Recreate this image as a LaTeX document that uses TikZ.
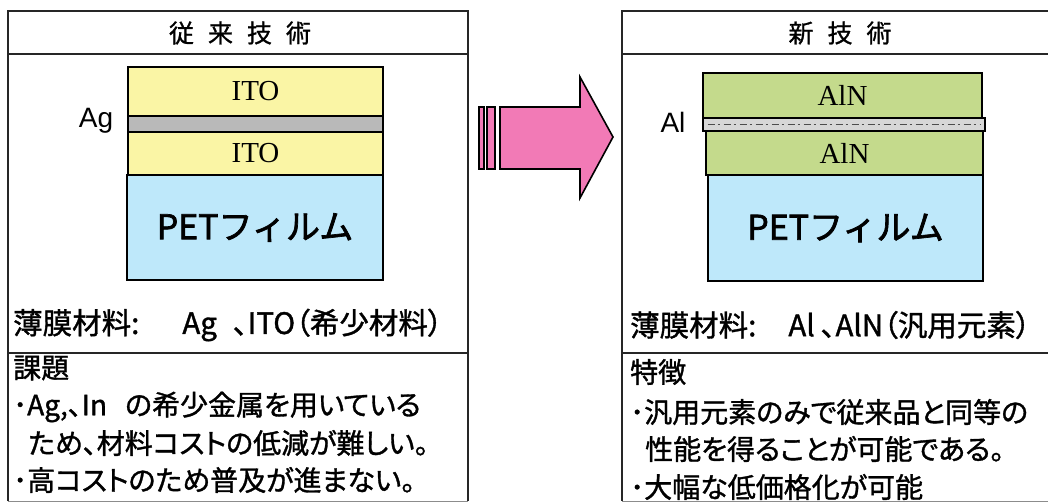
\documentclass[tikz,border=0pt]{standalone}
\usepackage{fontspec}
\setmainfont{Noto Sans CJK JP}[RawFeature=+palt,FakeBold=1.2]
\newfontfamily\jpb{Noto Sans CJK JP}[FakeBold=2]
\newfontfamily\jpt{Noto Sans CJK JP}[FakeBold=1]
\newfontfamily\serifl{Liberation Serif}
\newfontfamily\sansl{Liberation Sans}
\definecolor{itoY}{RGB}{250,245,165}
\definecolor{agG}{RGB}{185,185,185}
\definecolor{alG}{RGB}{215,215,215}
\definecolor{alnG}{RGB}{196,218,140}
\definecolor{petB}{RGB}{190,232,250}
\definecolor{arrP}{RGB}{242,122,182}
\begin{document}
\begin{tikzpicture}[x=1pt,y=-1pt,
  panel/.style={line width=2.4pt,draw=black!85},
  base/.style={line width=1pt,draw=black!45},
  layer/.style={draw=black,line width=2.6pt,inner sep=0pt,font=\serifl\fontsize{29}{29}\selectfont},
  pet/.style={layer,fill=petB,font=\jpb\fontsize{34}{34}\selectfont},
  lbl/.style={font=\sansl\fontsize{28}{28}\selectfont,inner sep=0pt},
  title/.style={font=\jpt\fontsize{25}{25}\selectfont,inner sep=0pt},
  txt/.style={font=\fontsize{28}{30}\selectfont,anchor=west,inner sep=0pt},
  mat/.style={font=\fontsize{29.5}{30}\selectfont,anchor=west,inner sep=0pt},
  speck/.style={draw=black!70,line width=0.8pt,dash pattern=on 7pt off 3pt on 2pt off 4pt},
  arrow/.style={fill=arrP,draw=black,line width=1.6pt,line join=miter}]
\useasboundingbox (0,0) rectangle (1048,503);
% left panel
\draw[panel] (8,501) -- (8,11) -- (468,11) -- (468,501);
\draw[base] (8,501) -- (468,501);
\draw[panel] (8,54) -- (468,54);
\draw[panel] (8,353) -- (468,353);
\node[title] (t1) at (240,33) {従\kern14pt 来\kern14pt 技\kern14pt 術};
\node[layer,fill=itoY,minimum width=255pt,minimum height=49pt] (ito1) at (255.5,91.5) {ITO};
\node[layer,fill=agG,minimum width=255pt,minimum height=16pt] (ag) at (255.5,124) {};
\node[layer,fill=itoY,minimum width=255pt,minimum height=43pt] (ito2) at (255.5,153.5) {ITO};
\node[pet,minimum width=256pt,minimum height=105pt] (pet1) at (255,227.5) {PETフィルム};
\node[lbl] (aglbl) at (96,121) {Ag};
\node[mat] (mat1) at (13,325) {薄膜材料:\hspace{43pt}Ag\hspace{16pt}、ITO（希少材料）};
\node[txt] (k1) at (13,368) {課題};
\node[txt] (k2) at (13,407) {･Ag,、In\hspace{18pt}の希少金属を用いている};
\node[txt] (k3) at (13,443) {\hspace{15pt}ため、材料コストの低減が難しい。};
\node[txt] (k4) at (13,480) {･高コストのため普及が進まない。};
% arrow
\draw[arrow] (479,107) rectangle (484,169);
\draw[arrow] (487,107) rectangle (495,169);
\draw[arrow] (500,107) -- (580,107) -- (580,77) -- (613,137) -- (580,198) -- (580,169) -- (500,169) -- cycle;
% right panel
\draw[panel] (1052,11) -- (622,11) -- (622,501);
\draw[base] (622,501) -- (1052,501);
\draw[panel] (622,54) -- (1052,54);
\draw[panel] (622,353) -- (1052,353);
\node[title] (t2) at (840,33) {新\kern14pt 技\kern14pt 術};
\node[layer,fill=alnG,minimum width=279pt,minimum height=45pt] (aln1) at (842.5,95.5) {AlN};
\node[layer,fill=alG,minimum width=282pt,minimum height=13pt] (al) at (844,124.5) {};
\draw[speck] ([xshift=6pt]al.west) -- ([xshift=-6pt]al.east);
\node[layer,fill=alnG,minimum width=277pt,minimum height=44pt] (aln2) at (844.5,153) {AlN};
\node[pet,minimum width=275pt,minimum height=106pt] (pet2) at (845.5,228) {PETフィルム};
\node[lbl] (allbl) at (673,122) {Al};
\node[mat] (mat2) at (630,325) {薄膜材料:\hspace{32pt}Al\hspace{6pt}、AlN（汎用元素）};
\node[txt] (f1) at (630,372) {特徴};
\node[txt] (f2) at (630,412) {･汎用元素のみで従来品と同等の};
\node[txt] (f3) at (630,449) {\hspace{15pt}性能を得ることが可能である。};
\node[txt] (f4) at (630,487) {･大幅な低価格化が可能};
\end{tikzpicture}
\end{document}
